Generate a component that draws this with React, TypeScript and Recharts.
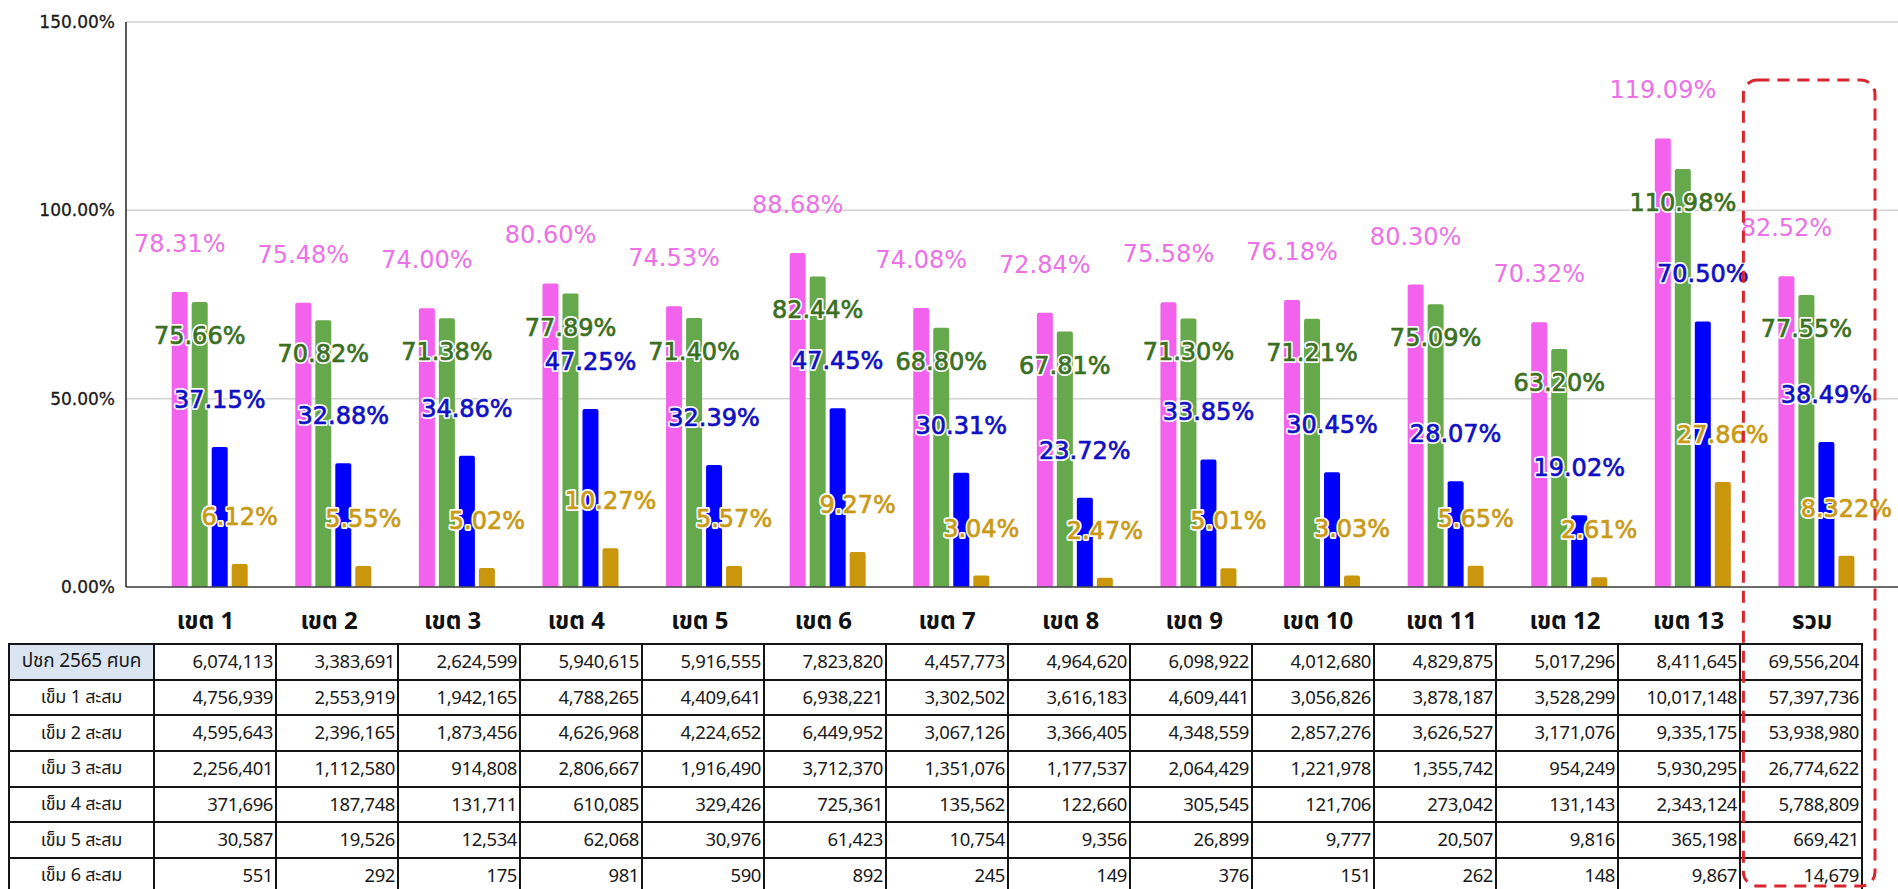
import React from "react";
import { BarChart, Bar, XAxis, YAxis, CartesianGrid, LabelList } from "recharts";

// ---------- data ----------
const categories = ["เขต 1", "เขต 2", "เขต 3", "เขต 4", "เขต 5", "เขต 6", "เขต 7", "เขต 8", "เขต 9", "เขต 10", "เขต 11", "เขต 12", "เขต 13", "รวม"];
const dose1Pct = [78.31, 75.48, 74.0, 80.6, 74.53, 88.68, 74.08, 72.84, 75.58, 76.18, 80.3, 70.32, 119.09, 82.52];
const dose2Pct = [75.66, 70.82, 71.38, 77.89, 71.4, 82.44, 68.8, 67.81, 71.3, 71.21, 75.09, 63.2, 110.98, 77.55];
const dose3Pct = [37.15, 32.88, 34.86, 47.25, 32.39, 47.45, 30.31, 23.72, 33.85, 30.45, 28.07, 19.02, 70.5, 38.49];
const dose4Pct = [6.12, 5.55, 5.02, 10.27, 5.57, 9.27, 3.04, 2.47, 5.01, 3.03, 5.65, 2.61, 27.86, 8.322];
const yTicks = [0, 50, 100, 150];

const rowLabels = ["ปชก 2565 ศบค", "เข็ม 1 สะสม", "เข็ม 2 สะสม", "เข็ม 3 สะสม", "เข็ม 4 สะสม", "เข็ม 5 สะสม", "เข็ม 6 สะสม"];
const population = [6074113, 3383691, 2624599, 5940615, 5916555, 7823820, 4457773, 4964620, 6098922, 4012680, 4829875, 5017296, 8411645, 69556204];
const dose1Count = [4756939, 2553919, 1942165, 4788265, 4409641, 6938221, 3302502, 3616183, 4609441, 3056826, 3878187, 3528299, 10017148, 57397736];
const dose2Count = [4595643, 2396165, 1873456, 4626968, 4224652, 6449952, 3067126, 3366405, 4348559, 2857276, 3626527, 3171076, 9335175, 53938980];
const dose3Count = [2256401, 1112580, 914808, 2806667, 1916490, 3712370, 1351076, 1177537, 2064429, 1221978, 1355742, 954249, 5930295, 26774622];
const dose4Count = [371696, 187748, 131711, 610085, 329426, 725361, 135562, 122660, 305545, 121706, 273042, 131143, 2343124, 5788809];
const dose5Count = [30587, 19526, 12534, 62068, 30976, 61423, 10754, 9356, 26899, 9777, 20507, 9816, 365198, 669421];
const dose6Count = [551, 292, 175, 981, 590, 892, 245, 149, 376, 151, 262, 148, 9867, 14679];

const tableRows = [population, dose1Count, dose2Count, dose3Count, dose4Count, dose5Count, dose6Count];
const data = categories.map((name, i) => ({
  name,
  d1: dose1Pct[i],
  d2: dose2Pct[i],
  d3: dose3Pct[i],
  d4: dose4Pct[i],
}));

// ---------- layout ----------
if (typeof document !== "undefined") {
  document.body.style.margin = "0";
}
const W = 1898;
const H = 889;
const CHART_H = 643;
const Y_AXIS_W = 126;
const X_AXIS_H = 56;
const PAD_L = 21.7;
const PAD_R = 20;
const BAND = (W - Y_AXIS_W - PAD_L - PAD_R) / categories.length;

const THAI_FONT = "'Noto Sans Thai', 'Noto Sans Thai Looped', 'Noto Sans', 'DejaVu Sans', sans-serif";
const LABEL_FONT = "'DejaVu Sans', sans-serif";

const fmtPct = (v: number) => {
  const s = String(v);
  const dec = s.includes(".") ? s.split(".")[1].length : 0;
  return v.toFixed(Math.max(2, dec)) + "%";
};
const fmtNum = (v: number) => v.toLocaleString("en-US");

const makeLabel = (color: string, dy: number, heavy: boolean) => (props: any) => {
  const { x, y, width, value } = props;
  const cx = Number(x) + Number(width) / 2;
  const cy = Number(y) + dy;
  const txt = fmtPct(Number(value));
  const common = {
    x: cx,
    y: cy,
    textAnchor: "middle" as const,
    dominantBaseline: "central" as const,
    fontSize: 24,
    fontFamily: LABEL_FONT,
  };
  return (
    <g>
      {heavy && (
        <text {...common} fill="#fff" stroke="#fff" strokeWidth={4} strokeLinejoin="round">
          {txt}
        </text>
      )}
      <text {...common} fill={color} stroke={heavy ? color : "none"} strokeWidth={heavy ? 0.7 : 0}>
        {txt}
      </text>
    </g>
  );
};

const YTick = (props: any) => {
  const { y, payload } = props;
  return (
    <text x={Y_AXIS_W - 11} y={y} textAnchor="end" dominantBaseline="central" fontSize={17} fontFamily="'DejaVu Sans', sans-serif" fill="#1a1a1a" stroke="#1a1a1a" strokeWidth={0.3}>
      {Number(payload.value).toFixed(2) + "%"}
    </text>
  );
};

const XTick = (props: any) => {
  const { x, y, payload } = props;
  return (
    <text x={x - 4} y={y + 27} textAnchor="middle" dominantBaseline="central" fontSize={24} fontWeight={700} fontFamily={THAI_FONT} fill="#111">
      {payload.value}
    </text>
  );
};

export default function App() {
  const boxLeft = Y_AXIS_W + PAD_L + BAND * (categories.length - 1) - 11;
  const boxRight = Y_AXIS_W + PAD_L + BAND * categories.length - 3;
  const cellBorder = "2px solid #151515";
  return (
    <div style={{ position: "relative", width: W, height: H, overflow: "hidden", background: "#fff" }}>
      <BarChart
        width={W}
        height={CHART_H}
        data={data}
        margin={{ top: 22, right: 0, bottom: 0, left: 0 }}
        barSize={16}
        barGap={4}
      >
        <CartesianGrid vertical={false} stroke="#d2d2d2" strokeWidth={1.5} />
        <XAxis
          dataKey="name"
          height={X_AXIS_H}
          padding={{ left: PAD_L, right: PAD_R }}
          tickLine={false}
          axisLine={{ stroke: "#444", strokeWidth: 1.5 }}
          tick={<XTick />}
          interval={0}
        />
        <YAxis
          width={Y_AXIS_W}
          domain={[0, 150]}
          ticks={yTicks}
          tickLine={false}
          axisLine={{ stroke: "#222", strokeWidth: 1.5 }}
          tick={<YTick />}
        />
        <Bar dataKey="d1" fill="#f262ec" radius={[2, 2, 0, 0]} isAnimationActive={false}>
          <LabelList dataKey="d1" content={makeLabel("#ec70e6", -48, false)} />
        </Bar>
        <Bar dataKey="d2" fill="#66a84c" radius={[2, 2, 0, 0]} isAnimationActive={false}>
          <LabelList dataKey="d2" content={makeLabel("#3b7022", 34, true)} />
        </Bar>
        <Bar dataKey="d3" fill="#0000ff" radius={[2, 2, 0, 0]} isAnimationActive={false}>
          <LabelList dataKey="d3" content={makeLabel("#1010c4", -47, true)} />
        </Bar>
        <Bar dataKey="d4" fill="#c9960c" radius={[2, 2, 0, 0]} isAnimationActive={false}>
          <LabelList dataKey="d4" content={makeLabel("#c99a16", -47, true)} />
        </Bar>
      </BarChart>

      <table
        style={{
          position: "absolute",
          left: 8,
          top: CHART_H,
          borderCollapse: "collapse",
          tableLayout: "fixed",
          width: 145 + 122 * categories.length,
          fontFamily: THAI_FONT,
          fontSize: 18.5,
          color: "#1a1a1a",
        }}
      >
        <colgroup>
          <col style={{ width: 145 }} />
          {categories.map((c) => (
            <col key={c} style={{ width: 122 }} />
          ))}
        </colgroup>
        <tbody>
          {tableRows.map((row, r) => (
            <tr key={r} style={{ height: 35.7 }}>
              <td
                style={{
                  border: cellBorder,
                  textAlign: "center",
                  padding: 0,
                  background: r === 0 ? "#dbe5f1" : "#fff",
                  whiteSpace: "nowrap",
                  fontSize: r === 0 ? 19 : 18,
                  letterSpacing: -0.2,
                }}
              >
                {rowLabels[r]}
              </td>
              {row.map((v, i) => (
                <td key={i} style={{ border: cellBorder, textAlign: "right", padding: "0 2px 0 0", whiteSpace: "nowrap", letterSpacing: -0.4 }}>
                  {fmtNum(v)}
                </td>
              ))}
            </tr>
          ))}
        </tbody>
      </table>

      <svg width={W} height={H} style={{ position: "absolute", left: 0, top: 0, pointerEvents: "none" }}>
        <rect
          x={boxLeft}
          y={80}
          width={boxRight - boxLeft}
          height={806}
          rx={14}
          ry={14}
          fill="none"
          stroke="#d9262e"
          strokeWidth={3}
          strokeDasharray="12 8"
        />
      </svg>
    </div>
  );
}
